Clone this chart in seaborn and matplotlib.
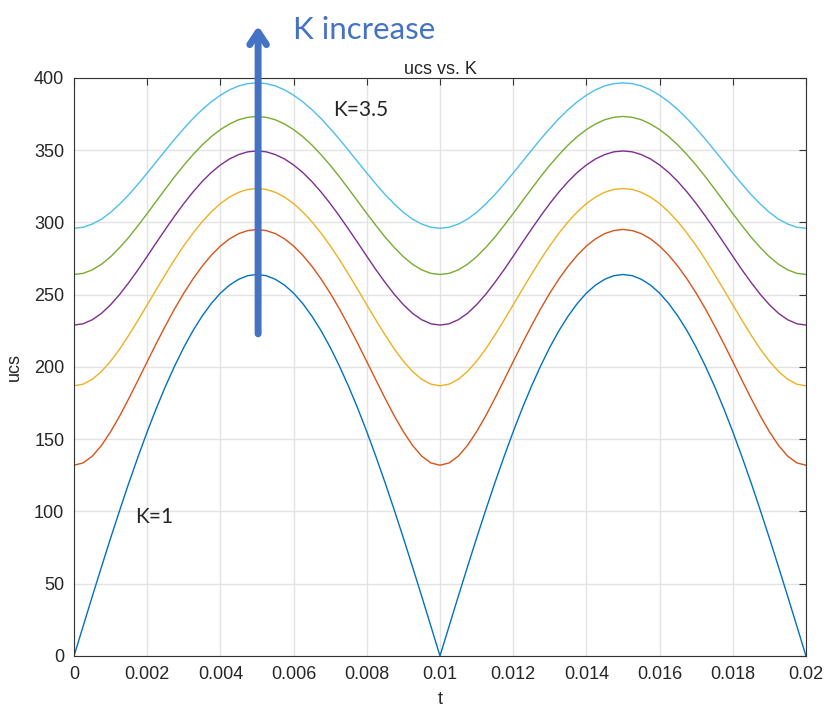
import numpy as np
import pandas as pd
import matplotlib
matplotlib.use("Agg")
import matplotlib.pyplot as plt
from matplotlib.ticker import FuncFormatter, MultipleLocator
import seaborn as sns

# sample times (s), every 0.25 ms
t = [0.0, 0.00025, 0.0005, 0.00075, 0.001, 0.00125, 0.0015, 0.00175, 0.002, 0.00225,
     0.0025, 0.00275, 0.003, 0.00325, 0.0035, 0.00375, 0.004, 0.00425, 0.0045, 0.00475,
     0.005, 0.00525, 0.0055, 0.00575, 0.006, 0.00625, 0.0065, 0.00675, 0.007, 0.00725,
     0.0075, 0.00775, 0.008, 0.00825, 0.0085, 0.00875, 0.009, 0.00925, 0.0095, 0.00975,
     0.01, 0.01025, 0.0105, 0.01075, 0.011, 0.01125, 0.0115, 0.01175, 0.012, 0.01225,
     0.0125, 0.01275, 0.013, 0.01325, 0.0135, 0.01375, 0.014, 0.01425, 0.0145, 0.01475,
     0.015, 0.01525, 0.0155, 0.01575, 0.016, 0.01625, 0.0165, 0.01675, 0.017, 0.01725,
     0.0175, 0.01775, 0.018, 0.01825, 0.0185, 0.01875, 0.019, 0.01925, 0.0195, 0.01975,
     0.02]

k_values = [1, 1.5, 2, 2.5, 3, 3.5]

ucs_k1 = [0.0, 20.7, 41.3, 61.6, 81.6, 101.0, 119.9, 137.9, 155.2, 171.5, 186.7, 200.7, 213.6, 225.1, 235.2, 243.9, 251.1, 256.7, 260.7, 263.2, 264.0,
          263.2, 260.7, 256.7, 251.1, 243.9, 235.2, 225.1, 213.6, 200.7, 186.7, 171.5, 155.2, 137.9, 119.9, 101.0, 81.6, 61.6, 41.3, 20.7, 0.0,
          20.7, 41.3, 61.6, 81.6, 101.0, 119.9, 137.9, 155.2, 171.5, 186.7, 200.7, 213.6, 225.1, 235.2, 243.9, 251.1, 256.7, 260.7, 263.2, 264.0,
          263.2, 260.7, 256.7, 251.1, 243.9, 235.2, 225.1, 213.6, 200.7, 186.7, 171.5, 155.2, 137.9, 119.9, 101.0, 81.6, 61.6, 41.3, 20.7, 0.0]
ucs_k15 = [132.0, 133.6, 138.3, 145.7, 155.2, 166.2, 178.3, 190.9, 203.7, 216.4, 228.6, 240.3, 251.1, 260.9, 269.7, 277.3, 283.7, 288.7, 292.3, 294.4, 295.2,
           294.4, 292.3, 288.7, 283.7, 277.3, 269.7, 260.9, 251.1, 240.3, 228.6, 216.4, 203.7, 190.9, 178.3, 166.2, 155.2, 145.7, 138.3, 133.6, 132.0,
           133.6, 138.3, 145.7, 155.2, 166.2, 178.3, 190.9, 203.7, 216.4, 228.6, 240.3, 251.1, 260.9, 269.7, 277.3, 283.7, 288.7, 292.3, 294.4, 295.2,
           294.4, 292.3, 288.7, 283.7, 277.3, 269.7, 260.9, 251.1, 240.3, 228.6, 216.4, 203.7, 190.9, 178.3, 166.2, 155.2, 145.7, 138.3, 133.6, 132.0]
ucs_k2 = [187.0, 188.1, 191.5, 196.9, 204.0, 212.5, 222.1, 232.4, 243.0, 253.7, 264.2, 274.4, 283.9, 292.6, 300.5, 307.3, 313.1, 317.6, 320.9, 322.9, 323.5,
          322.9, 320.9, 317.6, 313.1, 307.3, 300.5, 292.6, 283.9, 274.4, 264.2, 253.7, 243.0, 232.4, 222.1, 212.5, 204.0, 196.9, 191.5, 188.1, 187.0,
          188.1, 191.5, 196.9, 204.0, 212.5, 222.1, 232.4, 243.0, 253.7, 264.2, 274.4, 283.9, 292.6, 300.5, 307.3, 313.1, 317.6, 320.9, 322.9, 323.5,
          322.9, 320.9, 317.6, 313.1, 307.3, 300.5, 292.6, 283.9, 274.4, 264.2, 253.7, 243.0, 232.4, 222.1, 212.5, 204.0, 196.9, 191.5, 188.1, 187.0]
ucs_k25 = [229.0, 229.9, 232.7, 237.1, 243.1, 250.3, 258.5, 267.3, 276.6, 286.1, 295.4, 304.5, 313.1, 321.1, 328.3, 334.6, 339.8, 344.0, 347.0, 348.9, 349.5,
           348.9, 347.0, 344.0, 339.8, 334.6, 328.3, 321.1, 313.1, 304.5, 295.4, 286.1, 276.6, 267.3, 258.5, 250.3, 243.1, 237.1, 232.7, 229.9, 229.0,
           229.9, 232.7, 237.1, 243.1, 250.3, 258.5, 267.3, 276.6, 286.1, 295.4, 304.5, 313.1, 321.1, 328.3, 334.6, 339.8, 344.0, 347.0, 348.9, 349.5,
           348.9, 347.0, 344.0, 339.8, 334.6, 328.3, 321.1, 313.1, 304.5, 295.4, 286.1, 276.6, 267.3, 258.5, 250.3, 243.1, 237.1, 232.7, 229.9, 229.0]
ucs_k3 = [264.0, 264.8, 267.2, 271.1, 276.3, 282.7, 289.9, 297.9, 306.2, 314.8, 323.3, 331.7, 339.6, 346.9, 353.6, 359.4, 364.3, 368.2, 371.1, 372.8, 373.4,
          372.8, 371.1, 368.2, 364.3, 359.4, 353.6, 346.9, 339.6, 331.7, 323.3, 314.8, 306.2, 297.9, 289.9, 282.7, 276.3, 271.1, 267.2, 264.8, 264.0,
          264.8, 267.2, 271.1, 276.3, 282.7, 289.9, 297.9, 306.2, 314.8, 323.3, 331.7, 339.6, 346.9, 353.6, 359.4, 364.3, 368.2, 371.1, 372.8, 373.4,
          372.8, 371.1, 368.2, 364.3, 359.4, 353.6, 346.9, 339.6, 331.7, 323.3, 314.8, 306.2, 297.9, 289.9, 282.7, 276.3, 271.1, 267.2, 264.8, 264.0]
ucs_k35 = [296.0, 296.7, 298.9, 302.3, 307.0, 312.8, 319.3, 326.6, 334.2, 342.1, 349.9, 357.7, 365.0, 371.9, 378.1, 383.5, 388.1, 391.8, 394.5, 396.1, 396.6,
           396.1, 394.5, 391.8, 388.1, 383.5, 378.1, 371.9, 365.0, 357.7, 349.9, 342.1, 334.2, 326.6, 319.3, 312.8, 307.0, 302.3, 298.9, 296.7, 296.0,
           296.7, 298.9, 302.3, 307.0, 312.8, 319.3, 326.6, 334.2, 342.1, 349.9, 357.7, 365.0, 371.9, 378.1, 383.5, 388.1, 391.8, 394.5, 396.1, 396.6,
           396.1, 394.5, 391.8, 388.1, 383.5, 378.1, 371.9, 365.0, 357.7, 349.9, 342.1, 334.2, 326.6, 319.3, 312.8, 307.0, 302.3, 298.9, 296.7, 296.0]

series = [ucs_k1, ucs_k15, ucs_k2, ucs_k25, ucs_k3, ucs_k35]
colors = ["#0072BD", "#D95319", "#EDB120", "#7E2F8E", "#77AC30", "#4DBEEE"]

df = pd.concat(
    [pd.DataFrame({"t": t, "ucs": s, "K": k}) for k, s in zip(k_values, series)],
    ignore_index=True,
)

sns.set_style("white")
plt.rcParams["font.family"] = ["Liberation Sans", "DejaVu Sans"]

fig = plt.figure(figsize=(8.28, 7.09), dpi=100)
ax = fig.add_axes([0.0894, 0.0748, 0.884, 0.8152])

sns.lineplot(data=df, x="t", y="ucs", hue="K", palette=colors, linewidth=1.0,
             legend=False, ax=ax)

ax.set_xlim(0, 0.02)
ax.set_ylim(0, 400)
ax.xaxis.set_major_locator(MultipleLocator(0.002))
ax.yaxis.set_major_locator(MultipleLocator(50))
ax.xaxis.set_major_formatter(FuncFormatter(lambda v, p: f"{v:g}"))
ax.grid(True, color="#e3e3e3", linewidth=1.0)
ax.set_axisbelow(True)
for sp in ax.spines.values():
    sp.set_visible(True)
    sp.set_color("#333333")
    sp.set_linewidth(0.8)
ax.tick_params(direction="in", length=5, width=0.8, colors="#333333",
               labelsize=13, top=True, right=True, labeltop=False, labelright=False, pad=7)
for lab in ax.get_xticklabels() + ax.get_yticklabels():
    lab.set_color("#262626")

ax.set_xlabel("t", fontsize=13, labelpad=6)
ax.set_ylabel("ucs", fontsize=13, labelpad=8)
ax.set_title("ucs vs. K", fontsize=13, pad=3)

# arrow and notes
blue = "#4472C4"
ax.annotate("", xy=(0.00503, 438), xytext=(0.00503, 221),
            arrowprops=dict(arrowstyle="->,head_length=0.9,head_width=0.6", color=blue, lw=5),
            annotation_clip=False)
ax.text(0.00598, 433, "K increase", color=blue, fontsize=22.5, family="Lato",
        ha="left", va="center", clip_on=False)
ax.text(0.00708, 378, "K=3.5", fontsize=15, family="Lato", ha="left", va="center")
ax.text(0.00167, 96, "K=1", fontsize=15, family="Lato", ha="left", va="center")

fig.savefig("out.png", dpi=100)
